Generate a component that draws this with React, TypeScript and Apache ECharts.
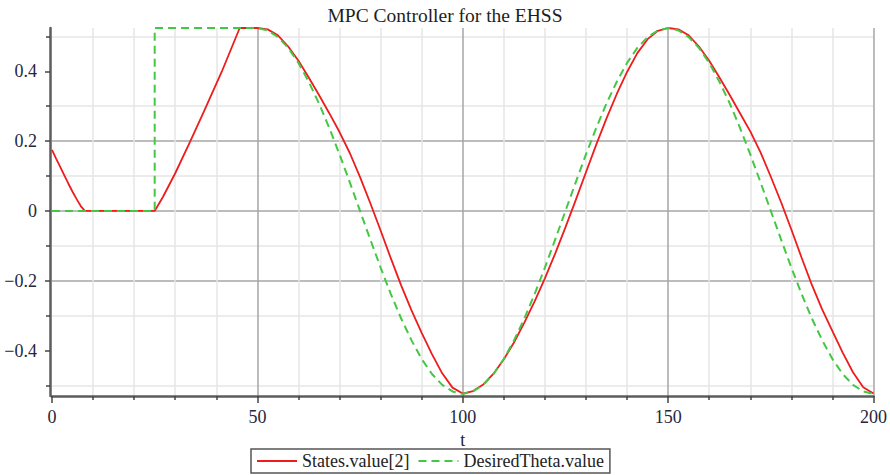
import React, { useEffect, useRef } from 'react';
import * as echarts from 'echarts';

const titleText = 'MPC Controller for the EHSS';
const seriesNames = ['States.value[2]', 'DesiredTheta.value'];
const xAxisName = 't';

const statesT = [
  0, 1, 2, 3, 4, 5, 6, 7, 8, 25, 27, 30, 33.6, 37, 41.3, 45.7, 50,
  52.5, 55, 57.5, 60, 62.5, 65, 67.5, 70, 72.5, 75, 77.5, 80, 82.5, 85, 87.5, 90, 92.5, 95, 97.5, 100,
  102.5, 105, 107.5, 110, 112.5, 115, 117.5, 120, 122.5, 125, 127.5, 130, 132.5, 135, 137.5, 140, 142.5, 145, 147.5, 150,
  152.5, 155, 157.5, 160, 162.5, 165, 167.5, 170, 172.5, 175, 177.5, 180, 182.5, 185, 187.5, 190, 192.5, 195, 197.5, 200,
];
const statesV = [
  0.175, 0.15, 0.126, 0.102, 0.078, 0.055, 0.034, 0.014, 0, 0, 0.04, 0.108, 0.198, 0.285, 0.398, 0.524, 0.524,
  0.52, 0.503, 0.471, 0.43, 0.382, 0.332, 0.28, 0.226, 0.166, 0.097, 0.022, -0.056, -0.136, -0.213, -0.284, -0.349, -0.41, -0.465, -0.506, -0.523,
  -0.516, -0.497, -0.466, -0.425, -0.376, -0.32, -0.259, -0.193, -0.122, -0.047, 0.031, 0.111, 0.19, 0.265, 0.335, 0.398, 0.452, 0.492, 0.516, 0.524,
  0.52, 0.503, 0.471, 0.43, 0.382, 0.332, 0.28, 0.228, 0.168, 0.098, 0.025, -0.053, -0.134, -0.212, -0.282, -0.344, -0.406, -0.462, -0.505, -0.523,
];

const desiredT = [
  0, 25, 25, 50,
  52.5, 55, 57.5, 60, 62.5, 65, 67.5, 70, 72.5, 75, 77.5, 80, 82.5, 85, 87.5, 90, 92.5, 95, 97.5, 100,
  102.5, 105, 107.5, 110, 112.5, 115, 117.5, 120, 122.5, 125, 127.5, 130, 132.5, 135, 137.5, 140, 142.5, 145, 147.5, 150,
  152.5, 155, 157.5, 160, 162.5, 165, 167.5, 170, 172.5, 175, 177.5, 180, 182.5, 185, 187.5, 190, 192.5, 195, 197.5, 200,
];
const desiredV = [
  0, 0, 0.524, 0.524,
  0.517, 0.498, 0.467, 0.424, 0.37, 0.308, 0.238, 0.162, 0.082, 0, -0.082, -0.162, -0.238, -0.308, -0.37, -0.424, -0.467, -0.498, -0.517, -0.524,
  -0.517, -0.498, -0.467, -0.424, -0.37, -0.308, -0.238, -0.162, -0.082, 0, 0.082, 0.162, 0.238, 0.308, 0.37, 0.424, 0.467, 0.498, 0.517, 0.524,
  0.517, 0.498, 0.467, 0.424, 0.37, 0.308, 0.238, 0.162, 0.082, 0, -0.082, -0.162, -0.238, -0.308, -0.37, -0.424, -0.467, -0.498, -0.517, -0.524,
];

const FONT = '"Liberation Serif", "Times New Roman", serif';
const LABEL_COLOR = '#26263c';

function fmtY(v: number): string {
  const r = Math.round(v * 10) / 10;
  if (Math.abs(v - r) > 1e-6) return '';
  if (Math.abs(Math.round(r * 10)) % 2 !== 0) return '';
  if (r === 0) return '0';
  return r < 0 ? '\u2212' + String(-r) : String(r);
}

export default function App() {
  const ref = useRef<HTMLDivElement>(null);
  useEffect(() => {
    if (!ref.current) return;
    const chart = echarts.init(ref.current, undefined, { renderer: 'svg' });
    const statesData = statesT.map((t, i) => [t, statesV[i]]);
    const desiredData = desiredT.map((t, i) => [t, desiredV[i]]);
    chart.setOption({
      animation: false,
      backgroundColor: '#ffffff',
      title: {
        text: titleText,
        left: 'center',
        top: 0,
        textStyle: { fontFamily: FONT, fontSize: 19.5, fontWeight: 'normal', color: '#1e1e1e' },
      },
      legend: {
        data: seriesNames,
        left: 251,
        top: 449,
        itemWidth: 40,
        itemHeight: 14,
        itemGap: 8,
        padding: [3, 6, 3, 5],
        borderColor: '#555555',
        borderWidth: 1.5,
        itemStyle: { opacity: 0 },
        textStyle: { fontFamily: FONT, fontSize: 18, color: '#222222' },
      },
      grid: { left: 52, right: 15, top: 28, bottom: 79, containLabel: false },
      xAxis: {
        type: 'value',
        min: 0,
        max: 200,
        interval: 50,
        name: xAxisName,
        nameLocation: 'middle',
        nameGap: 28,
        nameTextStyle: { fontFamily: FONT, fontSize: 18, color: '#1e1e1e' },
        axisLine: { show: true, onZero: false, lineStyle: { color: '#5c5c5c', width: 2.5 } },
        axisTick: { show: true, length: 7, lineStyle: { color: '#444444', width: 1.5 } },
        minorTick: { show: true, splitNumber: 5, length: 4, lineStyle: { color: '#444444', width: 1.5 } },
        axisLabel: { margin: 12, fontFamily: FONT, fontSize: 18, color: LABEL_COLOR },
        splitLine: { show: true, showMinLine: false, lineStyle: { color: '#a6a6a6', width: 1.5 } },
        minorSplitLine: { show: true, lineStyle: { color: '#e6e6e6', width: 1.5 } },
      },
      yAxis: {
        type: 'value',
        min: -0.53,
        max: 0.524,
        offset: 2,
        axisLine: { show: true, onZero: false, lineStyle: { color: '#5c5c5c', width: 2.5 } },
        axisTick: { show: true, length: 5, customValues: [-0.4, -0.2, 0, 0.2, 0.4], lineStyle: { color: '#444444', width: 1.5 } },
        minorTick: { show: true, splitNumber: 2, length: 4, lineStyle: { color: '#444444', width: 1.5 } },
        axisLabel: { margin: 13, fontFamily: FONT, fontSize: 18, color: LABEL_COLOR, formatter: fmtY, showMinLabel: false, showMaxLabel: false },
        splitLine: { show: true, showMinLine: false, showMaxLine: false, lineStyle: { color: '#a6a6a6', width: 1.5 } },
        minorSplitLine: { show: true, lineStyle: { color: '#e6e6e6', width: 1.5 } },
      },
      series: [
        {
          name: seriesNames[0],
          type: 'line',
          data: statesData,
          symbol: 'none',
          lineStyle: { color: '#ee1c1c', width: 1.8 },
          itemStyle: { color: '#ee1c1c' },
          z: 3,
        },
        {
          name: seriesNames[1],
          type: 'line',
          data: desiredData,
          symbol: 'none',
          lineStyle: { color: '#44c844', width: 2, type: [8, 5] },
          itemStyle: { color: '#44c844' },
          z: 4,
        },
      ],
    });
    return () => chart.dispose();
  }, []);
  return <div ref={ref} style={{ position: 'fixed', left: 0, top: 0, width: 890, height: 475 }} />;
}
